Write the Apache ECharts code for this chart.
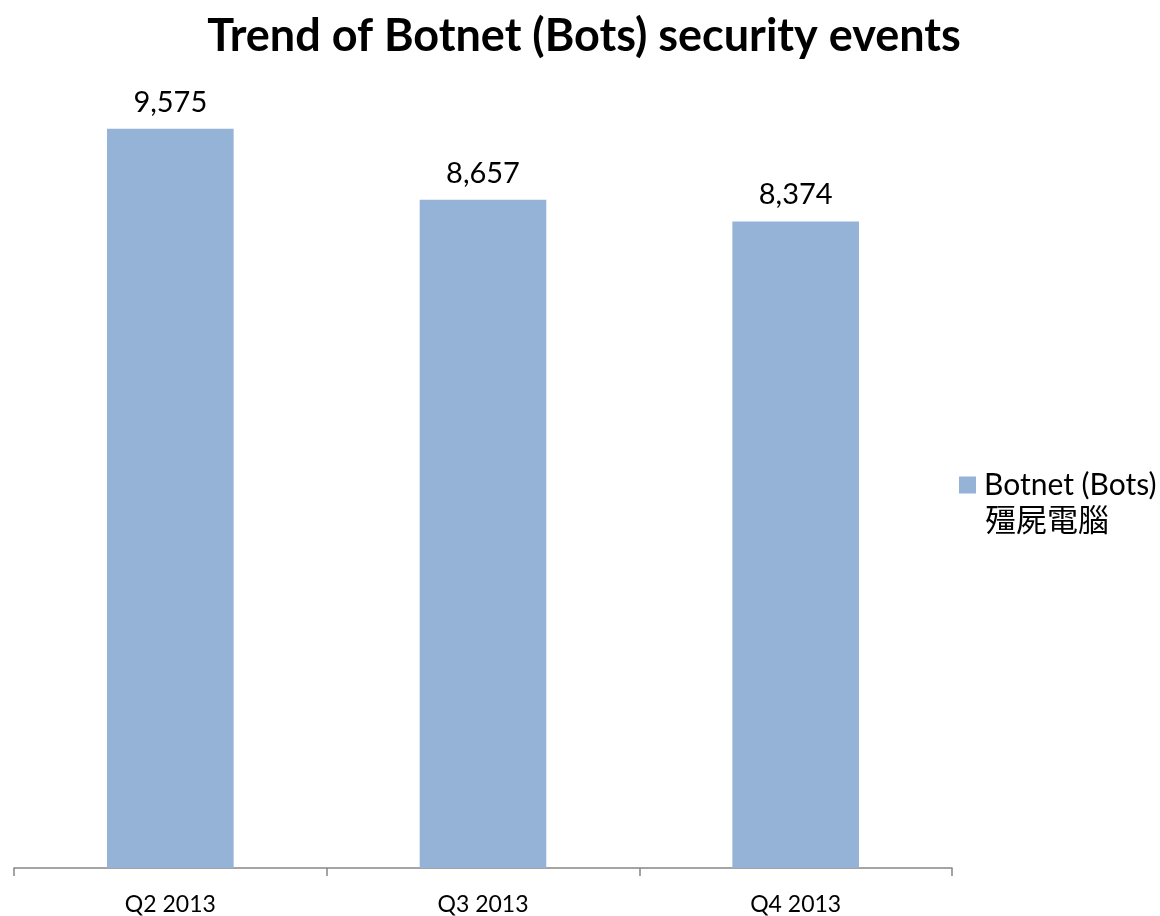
<!DOCTYPE html>
<html>
<head>
<meta charset="utf-8">
<script src="https://cdn.jsdelivr.net/npm/echarts@6/dist/echarts.min.js"></script>
<style>
  html, body { margin: 0; padding: 0; background: #ffffff; }
  #chart { width: 1160px; height: 916px; }
</style>
</head>
<body>
<div id="chart"></div>
<script>
// Quarterly count of botnet security events
const categories = ['Q2 2013', 'Q3 2013', 'Q4 2013'];
const botnetEvents = [9575, 8657, 8374];
const seriesName = 'Botnet (Bots)\n殭屍電腦';
const nameLines = seriesName.split('\n');

const fontLatin = 'Lato, "Noto Sans CJK TC", sans-serif';

const chart = echarts.init(document.getElementById('chart'), null, { renderer: 'canvas' });

chart.setOption({
  backgroundColor: '#ffffff',
  animation: false,
  title: {
    text: 'Trend of Botnet (Bots) security events',
    left: 579,
    textAlign: 'center',
    top: 9,
    textStyle: {
      fontFamily: fontLatin,
      fontWeight: 'bold',
      fontSize: 45,
      color: '#000000'
    }
  },
  legend: {
    orient: 'vertical',
    left: 954,
    top: 465,
    itemWidth: 17,
    itemHeight: 17,
    icon: 'rect',
    selectedMode: false,
    formatter: name => name.split('\n')[0],
    textStyle: {
      fontFamily: fontLatin,
      fontSize: 30,
      color: '#000000',
      padding: [0, 0, 0, 3]
    },
    data: [seriesName]
  },
  // second line of the legend entry, set under the first one
  graphic: [{
    type: 'text',
    left: 985,
    top: 504,
    style: {
      text: nameLines[1],
      font: '31px "Noto Sans CJK TC", sans-serif',
      fill: '#000000'
    }
  }],
  grid: {
    left: 14,
    right: 208,
    top: 96,
    bottom: 46,
    containLabel: false
  },
  xAxis: {
    type: 'category',
    data: categories,
    axisLine: { lineStyle: { color: '#868686', width: 1.5 } },
    axisTick: { show: true, length: 8, lineStyle: { color: '#868686', width: 1.5 } },
    axisLabel: {
      fontFamily: fontLatin,
      fontSize: 23,
      color: '#000000',
      margin: 25
    }
  },
  yAxis: {
    type: 'value',
    min: 0,
    max: 10000,
    show: false,
    splitLine: { show: false }
  },
  series: [{
    name: seriesName,
    type: 'bar',
    data: botnetEvents,
    barWidth: '40.5%',
    itemStyle: { color: '#95B3D7' },
    label: {
      show: true,
      position: 'top',
      distance: 12,
      fontFamily: fontLatin,
      fontSize: 29,
      color: '#000000',
      formatter: p => p.value.toLocaleString('en-US')
    }
  }]
});
</script>
</body>
</html>
